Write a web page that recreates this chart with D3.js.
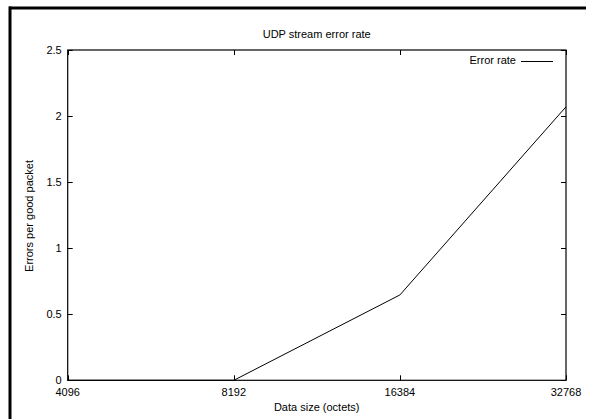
<!DOCTYPE html>
<html>
<head>
<meta charset="utf-8">
<script src="https://cdn.jsdelivr.net/npm/d3@7/dist/d3.min.js"></script>
<style>
  html, body { margin: 0; padding: 0; background: #fff; }
  svg { display: block; }
  text { font-family: "Liberation Sans", Arial, Helvetica, sans-serif; font-size: 11px; fill: #000; }
</style>
</head>
<body>
<svg id="chart" width="592" height="419"></svg>
<script>
const dataSizes = [4096, 8192, 16384, 32768];
const errorRates = [0, 0, 0.646, 2.07];
const xTicks = [4096, 8192, 16384, 32768];
const yTicks = [0, 0.5, 1, 1.5, 2, 2.5];
const titleText = "UDP stream error rate";
const xLabel = "Data size (octets)";
const yLabel = "Errors per good packet";
const seriesName = "Error rate";

(function () {
const svg = d3.select("#chart");
const pLeft = 67.7, pRight = 566, pTop = 50, pBottom = 380.3;

// outer frame (top and left edges visible)
svg.append("line").attr("x1", 9).attr("x2", 586).attr("y1", 8).attr("y2", 8)
  .attr("stroke", "#000").attr("stroke-width", 3);
svg.append("line").attr("x1", 10).attr("x2", 10).attr("y1", 6.5).attr("y2", 419)
  .attr("stroke", "#000").attr("stroke-width", 3);

const x = d3.scaleLog().base(2).domain([4096, 32768]).range([pLeft, pRight]);
const y = d3.scaleLinear().domain([0, 2.5]).range([pBottom, pTop]);

const tl = 5;
const g = svg.append("g");

yTicks.forEach(t => {
  const yy = Math.round(y(t)) + 0.5;
  g.append("line").attr("x1", pLeft).attr("x2", pLeft + tl).attr("y1", yy).attr("y2", yy).attr("stroke", "#000");
  g.append("line").attr("x1", pRight - tl).attr("x2", pRight).attr("y1", yy).attr("y2", yy).attr("stroke", "#000");
  g.append("text").attr("x", pLeft - 6).attr("y", y(t) + 4).attr("text-anchor", "end").text(t);
});
xTicks.forEach(t => {
  const xx = Math.round(x(t)) + 0.5;
  g.append("line").attr("x1", xx).attr("x2", xx).attr("y1", pBottom).attr("y2", pBottom - tl).attr("stroke", "#000");
  g.append("line").attr("x1", xx).attr("x2", xx).attr("y1", pTop).attr("y2", pTop + tl).attr("stroke", "#000");
  g.append("text").attr("x", x(t)).attr("y", 396).attr("text-anchor", "middle").text(t);
});

g.append("rect").attr("x", pLeft).attr("y", pTop).attr("width", pRight - pLeft).attr("height", pBottom - pTop)
  .attr("fill", "none").attr("stroke", "#000").attr("stroke-width", 1.2);

const pts = dataSizes.map((d, i) => [d, errorRates[i]]);
g.append("path").datum(pts)
  .attr("d", d3.line().x(d => x(d[0])).y(d => y(d[1])))
  .attr("fill", "none").attr("stroke", "#000").attr("stroke-width", 1);

g.append("text").attr("x", 516).attr("y", 64).attr("text-anchor", "end").text(seriesName);
g.append("line").attr("x1", 521).attr("x2", 553).attr("y1", 61.5).attr("y2", 61.5).attr("stroke", "#000");

svg.append("text").attr("x", 316.7).attr("y", 38).attr("text-anchor", "middle").text(titleText);
svg.append("text").attr("x", 316.7).attr("y", 411).attr("text-anchor", "middle").text(xLabel);
svg.append("text").attr("transform", "translate(33,216) rotate(-90)").attr("text-anchor", "middle").text(yLabel);
})();
</script>
</body>
</html>
